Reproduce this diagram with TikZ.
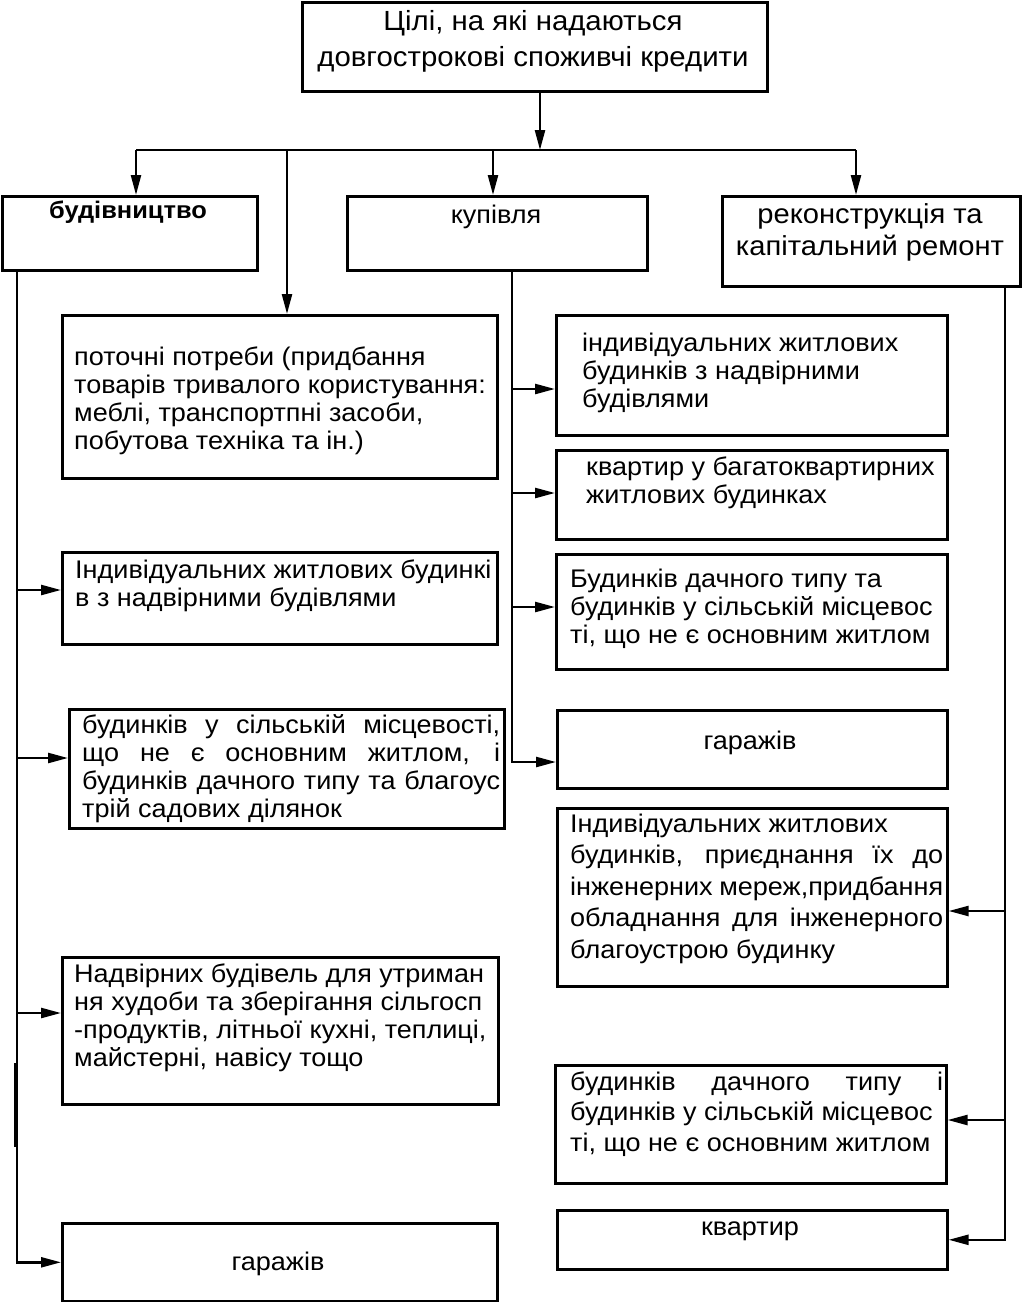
\documentclass[tikz,border=0pt]{standalone}
\usepackage{fontspec}
\setmainfont{Liberation Sans}[FakeStretch=1.06]
\usetikzlibrary{arrows.meta}
\newcommand\jl[1]{\makebox[\linewidth][s]{#1}}
\newcommand\bx[5]{\node[box, minimum width={#4-#2}, minimum height={#5-#3}] (#1) at (#2,#3) {};}
\begin{document}
\begin{tikzpicture}[x=1pt,y=-1pt,
  box/.style={draw, line width=2.6pt, rectangle, inner sep=0pt, anchor=north west},
  txt/.style={inner sep=0pt, font=\fontsize{25.5}{28}\selectfont},
  ln/.style={line width=2.4pt},
  arr/.style={ln, -{Triangle[length=20pt,width=10pt]}}]
\useasboundingbox (0,0) rectangle (1022,1302);
% boxes
\bx{top}{301}{1}{766}{90}
\bx{bud}{1}{195}{256}{269}
\bx{kup}{346}{195}{646}{269}
\bx{rek}{721}{195}{1019}{285}
\bx{pot}{61}{314}{496}{477}
\bx{indl}{61}{551}{496}{643}
\bx{sil}{68}{708}{503}{827}
\bx{nad}{61}{956}{497}{1103}
\bx{garl}{61}{1222}{496}{1300}
\bx{indr}{555}{314}{946}{434}
\bx{kvu}{555}{449}{946}{538}
\bx{dach}{555}{553}{946}{668}
\bx{garr}{556}{709}{946}{787}
\bx{indrek}{556}{807}{946}{985}
\bx{dachb}{554}{1064}{945}{1182}
\bx{kv}{556}{1209}{946}{1268}
% texts
\node[txt, anchor=base, font=\fontsize{27.7}{36}\selectfont] (topt) at (533,30)
  {\parbox[t]{460pt}{\centering Цілі, на які надаються\\ довгострокові споживчі кредити}};
\node[txt, anchor=base, font=\bfseries\fontsize{24}{28}\selectfont] (budt) at (128,218) {будівництво};
\node[txt, anchor=base] (kupt) at (496,223) {купівля};
\node[txt, anchor=base, font=\fontsize{27.5}{32}\selectfont] (rekt) at (870,223)
  {\parbox[t]{296pt}{\centering реконструкція та\\ капітальний ремонт}};
\node[txt, anchor=base west] (pott) at (74,365)
  {\parbox[t]{440pt}{поточні потреби (придбання\\ товарів тривалого користування:\\ меблі, транспортпні засоби,\\ побутова техніка та ін.)}};
\node[txt, anchor=base west] (indlt) at (75,578)
  {\parbox[t]{440pt}{Індивідуальних житлових будинкі\\ в з надвірними будівлями}};
\node[txt, anchor=base west] (silt) at (82,733)
  {\parbox[t]{418pt}{\jl{будинків у сільській місцевості,}\\ \jl{що не є основним житлом, і}\\ \jl{будинків дачного типу та благоус}\\ трій садових ділянок}};
\node[txt, anchor=base west] (nadt) at (74,982)
  {\parbox[t]{440pt}{Надвірних будівель для утриман\\ ня худоби та зберігання сільгосп\\ -продуктів, літньої кухні, теплиці,\\ майстерні, навісу тощо}};
\node[txt, anchor=base] (garlt) at (278,1270) {гаражів};
\node[txt, anchor=base west] (indrt) at (582,351)
  {\parbox[t]{380pt}{індивідуальних житлових\\ будинків з надвірними\\ будівлями}};
\node[txt, anchor=base west] (kvut) at (586,475)
  {\parbox[t]{380pt}{квартир у багатоквартирних\\ житлових будинках}};
\node[txt, anchor=base west] (dacht) at (570,587)
  {\parbox[t]{390pt}{Будинків дачного типу та\\ будинків у сільській місцевос\\ ті, що не є основним житлом}};
\node[txt, anchor=base] (garrt) at (750,749) {гаражів};
\node[txt, anchor=base west, font=\fontsize{25.5}{31.5}\selectfont] (indrekt) at (570,832)
  {\parbox[t]{373pt}{Індивідуальних житлових\\ \jl{будинків, приєднання їх до}\\ \jl{інженерних мереж,придбання}\\ \jl{обладнання для інженерного}\\ благоустрою будинку}};
\node[txt, anchor=base west, font=\fontsize{25.5}{30.5}\selectfont] (dachbt) at (570,1090)
  {\parbox[t]{373pt}{\jl{будинків дачного типу і}\\ будинків у сільській місцевос\\ ті, що не є основним житлом}};
\node[txt, anchor=base] (kvt) at (750,1235) {квартир};
% connectors
\coordinate (j) at (540,150);
\coordinate (hL) at (136,150);
\coordinate (hP) at (287,150);
\coordinate (hM) at (493,150);
\coordinate (hR) at (856,150);
\draw[arr] (top.south -| j) -- (j);
\draw[ln] (hL) -- (hR);
\draw[arr] (hL) -- (hL |- bud.north);
\draw[arr] (hM) -- (hM |- kup.north);
\draw[arr] (hR) -- (hR |- rek.north);
\draw[arr] (hP) -- (hP |- pot.north);
% left trunk
\coordinate (tl) at (17,269);
\draw[arr] (tl) -- (tl |- garl.west) -- (garl.west);
\draw[ln] (15,1063) -- (15,1147);
\draw[arr] (17,590) -- (indl.west |- 0,590);
\draw[arr] (17,758) -- (sil.west |- 0,758);
\draw[arr] (17,1013) -- (nad.west |- 0,1013);
% middle trunk
\coordinate (tm) at (512,269);
\draw[arr] (tm) -- (tm |- 0,762) -- (garr.west |- 0,762);
\draw[arr] (512,389) -- (indr.west |- 0,389);
\draw[arr] (512,493) -- (kvu.west |- 0,493);
\draw[arr] (512,607) -- (dach.west |- 0,607);
% right trunk
\coordinate (tr) at (1005,285);
\draw[arr] (tr) -- (tr |- kv.east) -- (kv.east);
\draw[arr] (1005,911) -- (indrek.east |- 0,911);
\draw[arr] (1005,1120) -- (dachb.east |- 0,1120);
\end{tikzpicture}
\end{document}
